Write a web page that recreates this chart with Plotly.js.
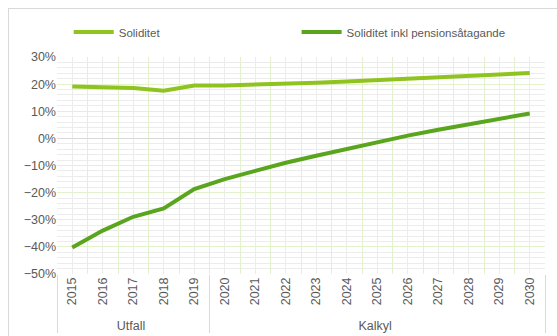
<!DOCTYPE html>
<html><head><meta charset="utf-8">
<script src="https://cdn.plot.ly/plotly-3.0.1.min.js"></script>
<style>
html,body{margin:0;padding:0;background:#fff;}
#wrap{position:relative;width:557px;height:336px;overflow:hidden;}
#chart{position:absolute;left:0;top:0;width:557px;height:336px;}
#frame{position:absolute;left:8px;top:8px;width:600px;height:400px;border:1px solid #d9d9d9;pointer-events:none;}
</style></head>
<body><div id="wrap"><div id="chart"></div><div id="frame"></div></div>
<script>
const years = ['2015','2016','2017','2018','2019','2020','2021','2022','2023','2024','2025','2026','2027','2028','2029','2030'];
const groups = ['Utfall','Utfall','Utfall','Utfall','Utfall','Kalkyl','Kalkyl','Kalkyl','Kalkyl','Kalkyl','Kalkyl','Kalkyl','Kalkyl','Kalkyl','Kalkyl','Kalkyl'];
const soliditet = [19.1, 18.9, 18.6, 17.6, 19.5, 19.5, 19.8, 20.0, 20.5, 21.0, 21.5, 22.0, 22.5, 23.0, 23.5, 24.1];
const soliditetPension = [-40.2, -34.0, -28.9, -25.8, -18.7, -15.0, -12.0, -9.0, -6.4, -3.9, -1.4, 1.0, 3.2, 5.2, 7.2, 9.2];
const seriesNames = ['Soliditet', 'Soliditet inkl pensionsåtagande'];
const colors = ['#8fc31f', '#5aa51e'];

const x = [groups, years];
const traces = [
  {x: years, y: soliditet.map(v => null), xaxis: 'x2', showlegend: false, hoverinfo: 'skip', type: 'scatter', mode: 'lines'},
  {x: x, y: soliditet.map(v => v/100), name: seriesNames[0], type: 'scatter', mode: 'lines',
   line: {color: colors[0], width: 4}, legend: 'legend'},
  {x: x, y: soliditetPension.map(v => v/100), name: seriesNames[1], type: 'scatter', mode: 'lines',
   line: {color: colors[1], width: 4}, legend: 'legend2'}
];

const legendBase = {orientation: 'h', xanchor: 'left', yanchor: 'middle', y: 1.115,
  font: {size: 11.5, color: '#595959'}, bgcolor: 'rgba(0,0,0,0)', itemwidth: 40};
const layout = {
  width: 557, height: 336,
  margin: {l: 57, r: 12, t: 57, b: 62},
  paper_bgcolor: '#fff', plot_bgcolor: '#fff',
  font: {family: 'Liberation Sans, Arial, sans-serif', size: 12.5, color: '#595959'},
  showlegend: true,
  legend: Object.assign({}, legendBase, {x: 0.024}),
  legend2: Object.assign({}, legendBase, {x: 0.491}),
  xaxis: {type: 'multicategory', range: [-0.5, 15.5], tickangle: -90, tickson: 'boundaries',
          showgrid: true, gridcolor: '#e4f2cc', gridwidth: 1,
          showline: false, zeroline: false, ticks: '', showdividers: true, dividercolor: '#d9d9d9',
          dividerwidth: 1, tickfont: {size: 12.5, color: '#595959'}},
  xaxis2: {type: 'category', overlaying: 'x', range: [-0.5, 15.5], showgrid: true, gridcolor: '#ececec',
           showticklabels: false, ticks: '', showline: false, zeroline: false, side: 'bottom'},
  yaxis: {range: [-0.5, 0.3], dtick: 0.1, tickformat: '.0%', showgrid: true, gridcolor: '#e4f2cc',
          zeroline: true, zerolinecolor: '#d9d9d9', zerolinewidth: 1.5, showline: false, ticks: '',
          minor: {dtick: 0.02, showgrid: true, gridcolor: '#ececec', gridwidth: 1},
          tickfont: {size: 12.5, color: '#595959'}}
};
Plotly.newPlot('chart', traces, layout, {displayModeBar: false, staticPlot: true});
</script></body></html>
